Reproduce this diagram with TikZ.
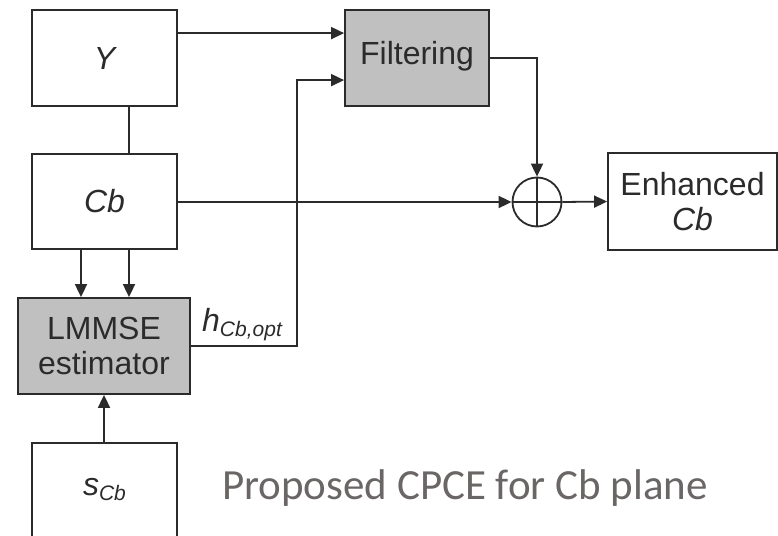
\documentclass[tikz,border=0pt]{standalone}
\usepackage{fontspec}
\setmainfont{Liberation Sans}
\newfontfamily\capfont{Carlito}
\usetikzlibrary{arrows.meta,calc}
\definecolor{linec}{HTML}{2B2B2B}
\definecolor{boxgray}{HTML}{C0C0C0}
\definecolor{capgray}{HTML}{6B6666}
\tikzset{
  blk/.style={draw=linec, line width=1.8pt, rectangle, inner sep=0pt, text=linec,
     font=\fontsize{32}{35}\selectfont, align=center},
  grayblk/.style={blk, fill=boxgray},
  arr/.style={draw=linec, line width=1.8pt, -{Triangle[length=13pt,width=12pt]}},
  ln/.style={draw=linec, line width=1.8pt},
}
\begin{document}
\begin{tikzpicture}[x=1pt,y=-1pt]
\useasboundingbox (0,0) rectangle (778,535);
\clip (0,0) rectangle (778,535);
\node[blk, minimum width=145pt, minimum height=96pt] (Y) at (104.5,58) {\itshape Y};
\node[blk, minimum width=145pt, minimum height=95pt] (Cb) at (104.5,201.5) {\itshape Cb};
\node[grayblk, minimum width=144pt, minimum height=96pt] (F) at (417,58) {};
\node[text=linec, font=\fontsize{32}{35}\selectfont] (Ft) at (417,56) {Filtering};
\node[grayblk, minimum width=172pt, minimum height=96pt] (L) at (104,346) {LMMSE\\estimator};
\node[blk, minimum width=145pt, minimum height=120pt, anchor=north] (S) at (104.5,442) {};
\node[text=linec, font=\fontsize{32}{35}\selectfont] (Stext) at (104.5,490) {\itshape s\raisebox{-5pt}{\fontsize{21}{23}\selectfont Cb}};
\node[blk, minimum width=169pt, minimum height=97pt] (E) at (692.5,201.5) {Enhanced\\\itshape Cb};
\node[draw=linec, line width=1.8pt, circle, minimum size=49pt, inner sep=0pt] (sum) at (537,202) {};
\draw[ln] (sum.north) -- (sum.south) (sum.west) -- (sum.east);

\draw[arr] ($(Y.north east)+(0,24)$) -- ($(F.north west)+(0,24)$);
\draw[ln] ($(Y.south)+(24.5,0)$) -- ($(Cb.north)+(24.5,0)$);
\draw[arr] (Cb.east |- sum.west) -- (sum.west);
\draw[arr] (F.east) -| (sum.north);
\draw[arr] (sum.east) -- (E.west);
\draw[arr] ($(Cb.south)+(-23.5,0)$) -- ($(L.north)+(-23,0)$);
\draw[arr] ($(Cb.south)+(24.5,0)$) -- ($(L.north)+(25,0)$);
\draw[arr] (S.north -| L.south) -- (L.south);
\coordinate (bend) at (297,346);
\draw[arr] (L.east) -- (bend) |- ($(F.north west)+(0,71)$);
\node[text=linec, font=\fontsize{32}{35}\selectfont, anchor=base west, inner sep=0pt] (hl) at (202,331) {\itshape h\raisebox{-5pt}{\fontsize{21}{23}\selectfont Cb,opt}};

\node[text=capgray, font=\capfont\fontsize{43}{48}\selectfont, anchor=base west, inner sep=0pt] (cap) at (222,499) {Proposed CPCE for Cb plane};
\end{tikzpicture}
\end{document}
